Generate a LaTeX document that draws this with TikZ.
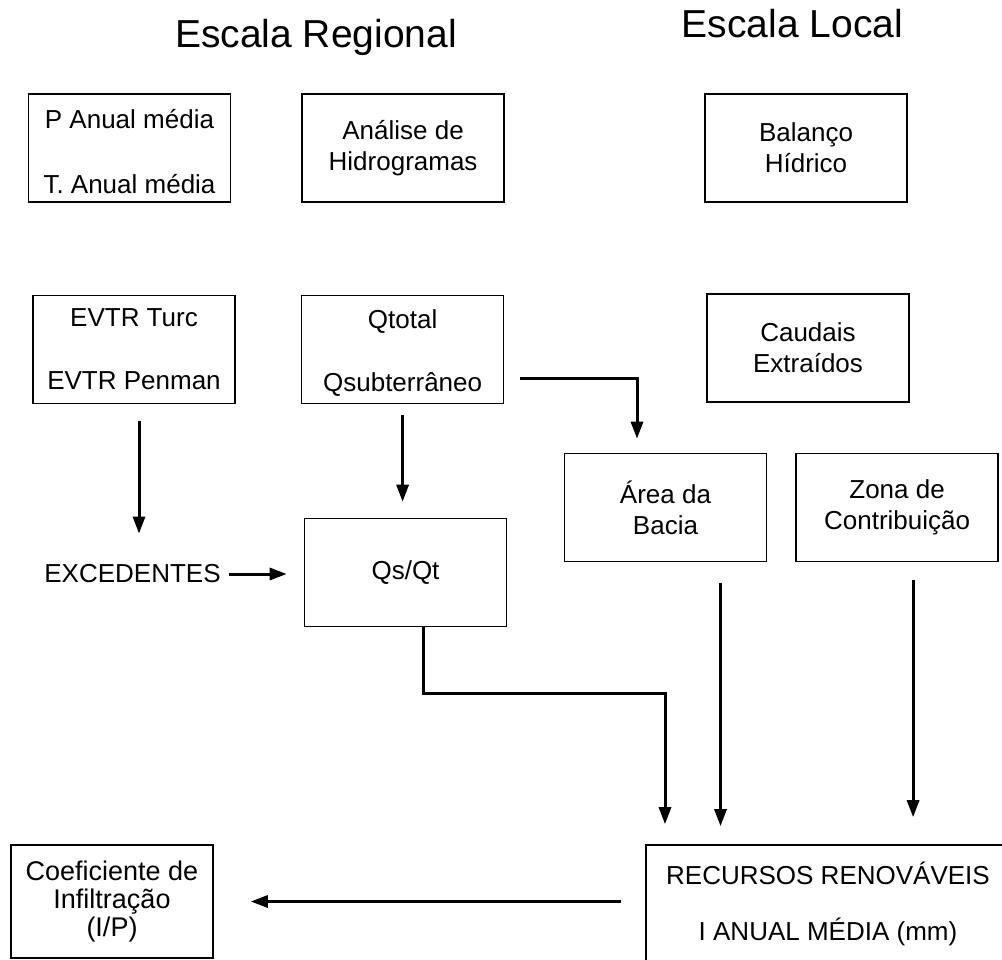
\documentclass[tikz,border=0pt]{standalone}
\usepackage{fontspec}
\setmainfont{Liberation Sans}
\usetikzlibrary{arrows.meta, positioning}

\newcommand{\escora}{\rule{0pt}{26pt}}

\begin{document}
\begin{tikzpicture}[x=1pt,y=-1pt,
		seta/.style={line width=3pt, -{Triangle[length=17pt,width=12pt]}}
	]

	\tikzset{
		bloco/.style={
				draw, line width=1.6pt, inner sep=0pt, minimum width=202pt, minimum height=108pt, align=center, font=\fontsize{26}{31}\selectfont
			},
		titulo/.style={
				anchor=base, inner sep=0pt, font=\fontsize{39}{46}\selectfont
			},
	}
	\useasboundingbox (0,0) rectangle (1002,960);

	\node[titulo](treg) at (316,48){Escala Regional};
	\node[titulo](tloc) at (792.5,38){Escala Local};

	\node[bloco](pmed) at (129.5,148){\escora P Anual média\\[34pt]T. Anual média};
	\node[bloco, right=70pt of pmed](hidro){Análise de\\Hidrogramas};
	\node[bloco](balanco) at (806,148){Balanço\\Hídrico};

	\node[bloco](evtr) at (134,349.5){EVTR Turc\\[32pt]EVTR Penman};
	\node[bloco, right=65pt of evtr](qtot){\escora Qtotal\\[32pt]Qsubterrâneo};
	\node[bloco](caudais) at (808,348){Caudais\\Extraídos};

	\node[bloco](area) at (665.5,507.5){Área da\\Bacia};
	\node[bloco, right=28pt of area](zona){Zona de\\Contribuição};

	\node[inner sep=0pt, font=\fontsize{26}{31}\selectfont](exc) at (132.5,574){EXCEDENTES};
	\node[bloco](qsqt) at (405.5,572.5){Qs/Qt};

	\node[bloco, minimum width=364pt, minimum height=118pt](rec) at (828,904){RECURSOS RENOVÁVEIS\\[25pt]I ANUAL MÉDIA (mm)};
	\node[bloco, minimum height=113pt, font=\fontsize{27}{28}\selectfont](coef) at (112,901.5){Coeficiente de\\Infiltração\\(I/P)};

	\draw[seta, shorten <=17pt, shorten >=31pt] ([xshift=5pt]evtr.south) -- ([xshift=5pt]evtr.south |- exc.north);
	\draw[seta, shorten <=11pt, shorten >=16pt] (qtot.south) -- (qtot.south |- qsqt.north);
	\draw[seta, shorten <=16pt, shorten >=14pt] ([yshift=-28.5pt]qtot.east) -| ([xshift=-28.5pt]area.north);
	\draw[seta, shorten <=8pt, shorten >=17pt] (exc.east) -- (exc.east -| qsqt.west);
	\draw[seta, shorten >=20pt] ([xshift=18pt]qsqt.south) -- ++(0,66) -| ([xshift=-163pt]rec.north);
	\draw[seta, shorten <=21pt, shorten >=18pt] ([xshift=55pt]area.south) -- ([xshift=55pt]area.south |- rec.north);
	\draw[seta, shorten <=18pt, shorten >=27pt] ([xshift=16pt]zona.south) -- ([xshift=16pt]zona.south |- rec.north);
	\draw[seta, shorten <=24pt, shorten >=37pt] (rec.west |- coef.east) -- (coef.east);

\end{tikzpicture}
\end{document}
